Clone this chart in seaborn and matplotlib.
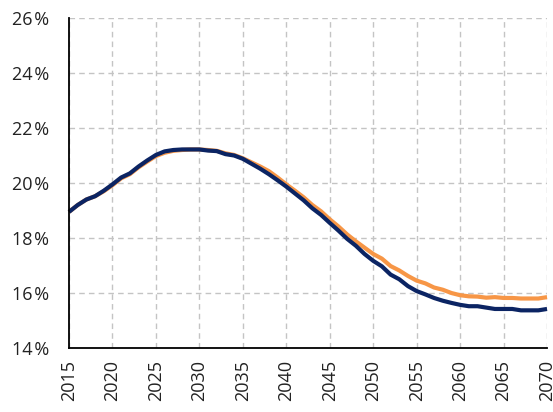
import numpy as np
import pandas as pd
import matplotlib
matplotlib.use("Agg")
import matplotlib.pyplot as plt
import seaborn as sns
from matplotlib.ticker import FuncFormatter

# Yearly values (share, %)
years = list(range(2015, 2071))

navy_values = [
    18.95, 19.2, 19.4, 19.52, 19.72, 19.95, 20.2, 20.35, 20.6, 20.82,
    21.02, 21.15, 21.2, 21.22, 21.22, 21.22, 21.18, 21.16, 21.05, 21.0,
    20.88, 20.7, 20.52, 20.32, 20.1, 19.87, 19.62, 19.37, 19.08, 18.84,
    18.55, 18.27, 17.97, 17.72, 17.42, 17.17, 16.97, 16.67, 16.5, 16.25,
    16.07, 15.95, 15.82, 15.72, 15.64, 15.57, 15.52, 15.52, 15.47, 15.42,
    15.42, 15.42, 15.37, 15.37, 15.37, 15.42,
]

orange_values = [
    18.95, 19.2, 19.4, 19.52, 19.7, 19.92, 20.17, 20.32, 20.57, 20.78,
    20.98, 21.1, 21.17, 21.2, 21.22, 21.22, 21.2, 21.17, 21.08, 21.02,
    20.9, 20.75, 20.6, 20.43, 20.2, 19.95, 19.72, 19.48, 19.2, 18.97,
    18.68, 18.42, 18.13, 17.88, 17.65, 17.42, 17.25, 16.98, 16.82, 16.62,
    16.45, 16.35, 16.2, 16.12, 16.0, 15.92, 15.88, 15.87, 15.83, 15.85,
    15.82, 15.82, 15.8, 15.8, 15.8, 15.85,
]

x_ticks = list(range(2015, 2071, 5))
y_ticks = [14, 16, 18, 20, 22, 24, 26]

df = pd.DataFrame({
    "year": years * 2,
    "value": orange_values + navy_values,
    "series": ["orange"] * len(years) + ["navy"] * len(years),
})

sns.set_theme(style="white")
plt.rcParams["font.family"] = ["Open Sans", "DejaVu Sans"]

fig = plt.figure(figsize=(5.53, 4.12), dpi=100)
ax = fig.add_axes([0.1248, 0.1553, 0.8644, 0.801])

sns.lineplot(
    data=df, x="year", y="value", hue="series",
    palette={"orange": "#f79646", "navy": "#0b2463"},
    linewidth=3.0, legend=False, ax=ax,
)
for ln in ax.lines:
    ln.set_clip_on(False)
    ln.set_solid_capstyle("butt")

ax.set_xlim(2015, 2070)
ax.set_ylim(14, 26)
ax.set_xticks(x_ticks)
ax.set_yticks(y_ticks)
ax.yaxis.set_major_formatter(FuncFormatter(lambda v, _: f"{v:.0f}\u200a%"))
ax.set_xlabel("")
ax.set_ylabel("")

ax.grid(True, color="#c4c4c4", linestyle=(0, (4, 3)), linewidth=1.0)
ax.set_axisbelow(True)

for side in ["top", "right"]:
    ax.spines[side].set_visible(False)
for side in ["left", "bottom"]:
    ax.spines[side].set_color("black")
    ax.spines[side].set_linewidth(1.3)
    ax.spines[side].set_zorder(5)

ax.tick_params(axis="both", direction="inout", length=9, width=1.2,
               color="black", labelsize=13, labelcolor="#222222")
ax.tick_params(axis="x", labelrotation=90, pad=4)
ax.tick_params(axis="y", pad=10)

fig.savefig("out.png", dpi=100)
